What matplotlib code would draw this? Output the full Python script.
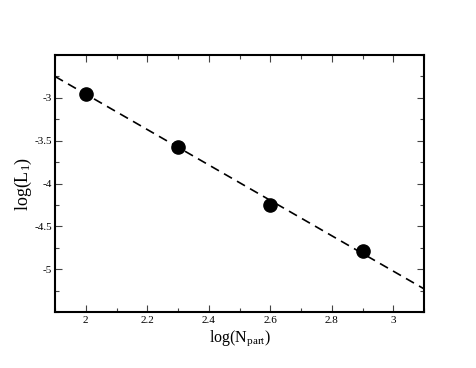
import matplotlib
matplotlib.use('Agg')
import matplotlib.pyplot as plt
from matplotlib.ticker import MultipleLocator

plt.rcParams['font.family'] = ['Liberation Serif', 'DejaVu Serif']
plt.rcParams['mathtext.default'] = 'regular'
plt.rcParams['axes.unicode_minus'] = False

# data
log_npart = [2.0, 2.3, 2.6, 2.9]
log_l1 = [-2.95, -3.57, -4.25, -4.79]
# dashed fit line, end points
fit_x = [1.9, 3.1]
fit_y = [-2.75, -5.23]

fig = plt.figure(figsize=(4.77, 3.68), dpi=100)
ax = fig.add_axes([0.1153, 0.1522, 0.7737, 0.6983])

ax.plot(fit_x, fit_y, color='black', linestyle=(0, (5.5, 3.5)), linewidth=1.2)
ax.plot(log_npart, log_l1, 'o', color='black', markersize=9.5)

ax.set_xlim(1.9, 3.1)
ax.set_ylim(-5.5, -2.5)
ax.xaxis.set_minor_locator(MultipleLocator(0.1))
ax.yaxis.set_minor_locator(MultipleLocator(0.25))
ax.set_yticks([-3, -3.5, -4, -4.5, -5])
ax.set_yticklabels(['-3', '-3.5', '-4', '-4.5', '-5'])
ax.set_xticks([2, 2.2, 2.4, 2.6, 2.8, 3])
ax.set_xticklabels(['2', '2.2', '2.4', '2.6', '2.8', '3'])

ax.tick_params(which='both', direction='in', top=True, right=True,
               labelsize=8, width=0.8, color='#444444')
ax.tick_params(which='major', length=5, pad=3)
ax.tick_params(which='minor', length=3)
ax.tick_params(axis='y', which='major', pad=2)
for s in ax.spines.values():
    s.set_linewidth(1.5)

ax.set_xlabel('log(N$_{part}$)', fontsize=11.5, labelpad=2)
ax.set_ylabel('log(L$_1$)', fontsize=13, labelpad=0.5)

fig.savefig('out.png', dpi=100)
